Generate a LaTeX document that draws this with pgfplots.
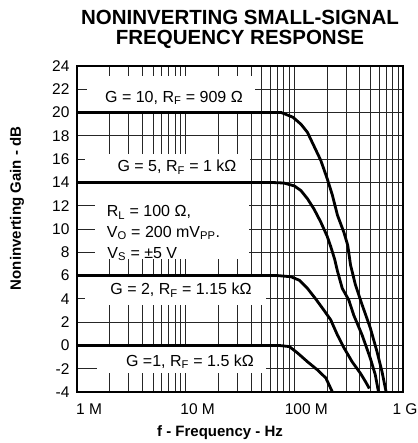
\documentclass[border=0pt]{standalone}
\usepackage{fontspec}
\setmainfont{Liberation Sans}
\usepackage{pgfplots}
\pgfplotsset{compat=1.18}
\newcommand{\intext}{\fontsize{16}{19}\selectfont}
\begin{document}
\begin{tikzpicture}
\begin{axis}[
  scale only axis, width=326pt, height=326pt,
  xmode=log, xmin=1e6, xmax=1e9, ymin=-4, ymax=24,
  xtick={1e6,1e7,1e8,1e9},
  minor xtick={2e6,3e6,4e6,5e6,6e6,7e6,8e6,9e6,2e7,3e7,4e7,5e7,6e7,7e7,8e7,9e7,2e8,3e8,4e8,5e8,6e8,7e8,8e8,9e8},
  xticklabels={1 M,10 M,100 M,{1 G\hspace*{20pt}}},
  ytick={-4,-2,...,24},
  yticklabels={-4,-2,0,2,4,6,8,10,12,14,16,18,20,22,24},
  major tick length=0pt, minor tick length=0pt,
  xmajorgrids, xminorgrids, ymajorgrids,
  major grid style={black!85, line width=0.8pt},
  minor grid style={black!85, line width=0.8pt},
  axis line style={line width=1.8pt},
  tick label style={font=\fontsize{15.5}{18}\selectfont},
  xticklabel style={xshift=12pt, yshift=-8pt},
  yticklabel style={xshift=-4pt},
  title={NONINVERTING SMALL-SIGNAL\\[3pt]FREQUENCY RESPONSE},
  title style={at={(axis description cs:0.5,1.152)}, anchor=north, inner sep=0pt, align=center, font=\fontsize{20.5}{17}\selectfont\bfseries},
  xlabel={f - Frequency - Hz},
  xlabel style={at={(axis description cs:0.4387,-0.138)}, anchor=base, font=\fontsize{15}{18}\selectfont\bfseries},
  ylabel={Noninverting Gain - dB},
  ylabel style={at={(axis description cs:-0.184,0.563)}, anchor=center, font=\fontsize{15}{18}\selectfont\bfseries},
]
% white label boxes that interrupt the grid
\fill[white] (axis cs:1.236e6,20) rectangle (axis cs:43.4e6,23.1);
\fill[white] (axis cs:1.185e6,14) rectangle (axis cs:39e6,16.4);
\fill[white] (axis cs:1.464e6,7.4) rectangle (axis cs:38.2e6,14);
\fill[white] (axis cs:1.185e6,3.5) rectangle (axis cs:55e6,6);
\fill[white] (axis cs:1.527e6,-2.4) rectangle (axis cs:55e6,0);

% G = 10
\addplot[black, line width=2.8pt, line join=round] coordinates {
(1e6,20) (60e6,20) (76e6,20) (97e6,19.6) (115e6,19.0) (132e6,18.3) (152e6,17.1)
(175e6,15.9) (201e6,14.3) (224e6,12.9) (249e6,11.2) (286e6,9.7) (310e6,8.6)
(329e6,6.9) (365e6,5.2) (420e6,3.5) (500e6,1.5) (575e6,-0.5) (639e6,-2.2)
(685e6,-3.6) (700e6,-4)};
% G = 5
\addplot[black, line width=2.8pt, line join=round] coordinates {
(1e6,14) (60e6,14) (80e6,13.95) (100e6,13.7) (115e6,13.3) (132e6,12.6) (152e6,11.7)
(175e6,10.6) (200e6,9.4) (216e6,8.5) (235e6,7.4) (249e6,6.4) (276e6,4.9)
(317e6,3.9) (352e6,2.6) (420e6,0.9) (500e6,-1.1) (555e6,-2.5) (595e6,-4)};
% G = 2
\addplot[black, line width=2.8pt, line join=round] coordinates {
(1e6,6) (70e6,6) (93e6,5.9) (111e6,5.6) (132e6,4.9) (157e6,4.0) (188e6,3.0)
(216e6,2.2) (249e6,0.9) (286e6,-0.2) (340e6,-1.4) (406e6,-2.4) (451e6,-3.1)
(490e6,-3.7)};
% G = 1
\addplot[black, line width=2.8pt, line join=round] coordinates {
(1e6,0) (72e6,0) (90e6,-0.1) (107e6,-0.65) (132e6,-1.4) (163e6,-2.1)
(195e6,-2.8) (224e6,-4)};

\node[anchor=base, font=\intext] at (axis cs:7.8e6,20.9) {G = 10, R\textsubscript{F} = 909 Ω};
\node[anchor=base, font=\intext] at (axis cs:8.32e6,14.9) {G = 5, R\textsubscript{F} = 1 kΩ};
\node[anchor=base west, inner sep=0pt, font=\intext] at (axis cs:1.876e6,11.05) {R\textsubscript{L} = 100 Ω,};
\node[anchor=base west, inner sep=0pt, font=\intext] at (axis cs:1.876e6,9.3) {V\textsubscript{O} = 200 mV\textsubscript{PP}.};
\node[anchor=base west, inner sep=0pt, font=\intext] at (axis cs:1.9e6,7.5) {V\textsubscript{S} = ±5 V};
\node[anchor=base, font=\intext] at (axis cs:9.05e6,4.35) {G = 2, R\textsubscript{F} = 1.15 kΩ};
\node[anchor=base, font=\intext] at (axis cs:10.96e6,-1.8) {G =1, R\textsubscript{F} = 1.5 kΩ};
\end{axis}
\pgfresetboundingbox
\path ([shift={(-77pt,-51pt)}]current axis.south west) rectangle ([shift={(14pt,66pt)}]current axis.north east);
\end{tikzpicture}
\end{document}
